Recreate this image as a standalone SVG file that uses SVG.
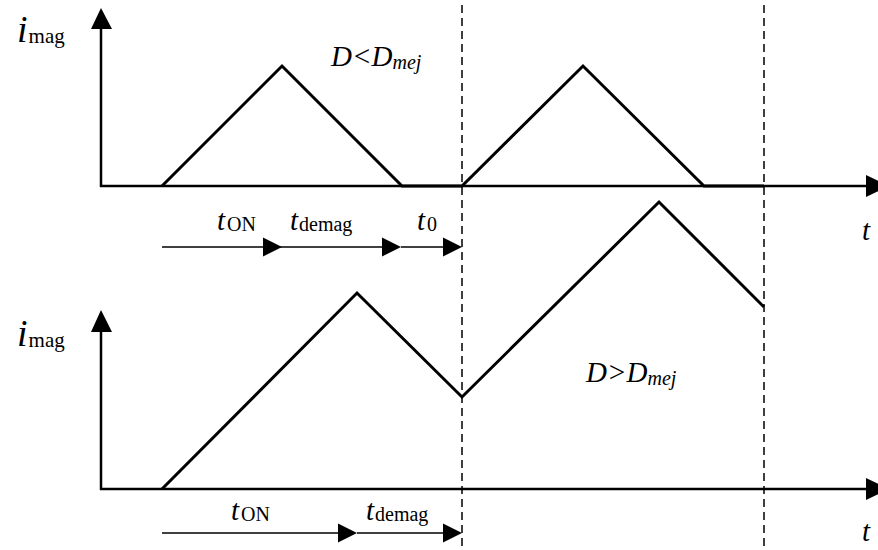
<svg xmlns="http://www.w3.org/2000/svg" width="878" height="550" viewBox="0 0 878 550" font-family="'Liberation Serif', 'Times New Roman', serif">
<style>
.ax{stroke:#000;stroke-width:2.5;fill:none}
.wave{stroke:#000;stroke-width:3;fill:none;stroke-linejoin:miter}
.dash{stroke:#000;stroke-width:1.5;stroke-dasharray:8,5;fill:none}
.tarr{stroke:#000;stroke-width:1.5;fill:none}
.head{fill:#000;stroke:none}
.lbl{font-family:'Liberation Serif','Times New Roman',serif;fill:#000}
.big{font-size:29px;font-style:italic}
.ibig{font-size:38px;font-style:italic}
.sub{font-size:20px;font-style:normal}
.msub{font-size:21px;font-style:normal}
.subi{font-size:20px;font-style:italic}
</style>
<rect width="878" height="550" fill="#fff"/>
<g id="connectors">
  <line class="dash" x1="462" y1="5" x2="462" y2="550"/>
  <line class="dash" x1="764" y1="5" x2="764" y2="550"/>
</g>
<g id="top-plot">
  <line class="ax" x1="101" y1="187" x2="101" y2="26"/>
  <polygon class="head" points="101,8 91,29 112,29"/>
  <line class="ax" x1="100" y1="186" x2="869" y2="186"/>
  <polygon class="head" points="866,175 889,186 866,197"/>
  <polyline class="wave" points="162,186 282,66 402,186 462,186 583,66 704,186 764,186"/>
  <text class="lbl" x="17" y="42"><tspan class="ibig">i</tspan><tspan class="msub" dx="1" dy="1">mag</tspan></text>
  <text class="lbl" x="331" y="66"><tspan class="big">D&lt;D</tspan><tspan class="subi" dy="3">mej</tspan></text>
  <text class="lbl big" x="862" y="240">t</text>
</g>
<g id="top-times">
  <line class="tarr" x1="162" y1="247" x2="265" y2="247"/>
  <polygon class="head" points="282,247 263,237.5 263,256.5"/>
  <line class="tarr" x1="280" y1="247" x2="385" y2="247"/>
  <polygon class="head" points="401,247 382,237.5 382,256.5"/>
  <line class="tarr" x1="401" y1="247" x2="444" y2="247"/>
  <polygon class="head" points="462,247 443,237.5 443,256.5"/>
  <text class="lbl" x="217" y="230"><tspan class="big">t</tspan><tspan class="sub" dx="2" dy="1">ON</tspan></text>
  <text class="lbl" x="290" y="230"><tspan class="big">t</tspan><tspan class="sub" dx="1" dy="1">demag</tspan></text>
  <text class="lbl" x="417" y="230"><tspan class="big">t</tspan><tspan class="sub" dx="2" dy="1">0</tspan></text>
</g>
<g id="bottom-plot">
  <line class="ax" x1="101" y1="490" x2="101" y2="330"/>
  <polygon class="head" points="101,310 91,332 112,332"/>
  <line class="ax" x1="100" y1="489" x2="869" y2="489"/>
  <polygon class="head" points="866,478 889,489 866,500"/>
  <polyline class="wave" points="162,489 357,293 462,397 659,202 764,307"/>
  <text class="lbl" x="17" y="346"><tspan class="ibig">i</tspan><tspan class="msub" dx="1" dy="1">mag</tspan></text>
  <text class="lbl" x="586" y="382"><tspan class="big">D&gt;D</tspan><tspan class="subi" dy="3">mej</tspan></text>
  <text class="lbl big" x="862" y="541">t</text>
</g>
<g id="bottom-times">
  <line class="tarr" x1="162" y1="533" x2="340" y2="533"/>
  <polygon class="head" points="357,533 338,523.5 338,542.5"/>
  <line class="tarr" x1="357" y1="533" x2="445" y2="533"/>
  <polygon class="head" points="462,533 443,523.5 443,542.5"/>
  <text class="lbl" x="231" y="520"><tspan class="big">t</tspan><tspan class="sub" dx="2" dy="1">ON</tspan></text>
  <text class="lbl" x="366" y="520"><tspan class="big">t</tspan><tspan class="sub" dx="1" dy="1">demag</tspan></text>
</g>
</svg>
